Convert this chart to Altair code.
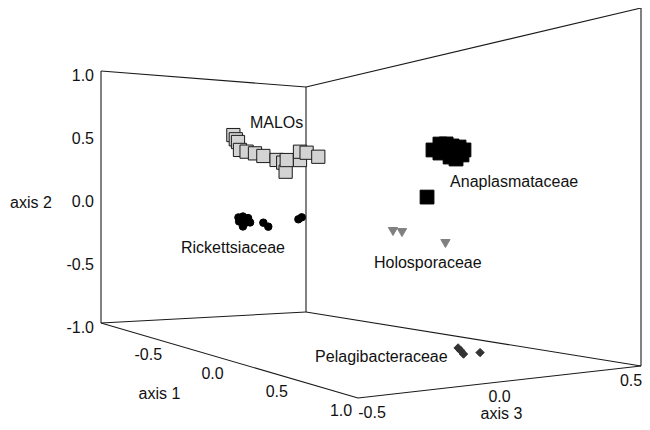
import altair as alt
import pandas as pd

# ---------------- data (3D ordination scores) ----------------
groups = ["MALOs", "Rickettsiaceae", "Anaplasmataceae", "Holosporaceae", "Pelagibacteraceae"]

malos_a1 = [-0.6] * 15
malos_a2 = [0.469, 0.438, 0.418, 0.359, 0.347, 0.335, 0.316, 0.287, 0.267, 0.198, 0.287, 0.288, 0.352, 0.345, 0.315]
malos_a3 = [-0.133, -0.122, -0.112, -0.103, -0.073, -0.035, 0.003, 0.063, 0.093, 0.104, 0.109, 0.169, 0.169, 0.199, 0.252]

rick_a1 = [-0.5] * 11
rick_a2 = [-0.168, -0.133, -0.145, -0.177, -0.205, -0.177, -0.139, -0.181, -0.211, -0.162, -0.148]
rick_a3 = [-0.171, -0.154, -0.131, -0.122, -0.154, -0.140, -0.174, -0.063, -0.041, 0.093, 0.108]

anap_a1 = [0.1] * 12
anap_a2 = [0.294, 0.332, 0.332, 0.318, 0.310, 0.290, 0.273, 0.279, 0.231, 0.245, 0.257, -0.014]
anap_a3 = [0.269, 0.297, 0.322, 0.346, 0.374, 0.394, 0.297, 0.330, 0.362, 0.338, 0.386, 0.245]

holo_a1 = [0.0] * 3
holo_a2 = [-0.237, -0.247, -0.335]
holo_a3 = [0.170, 0.207, 0.385]

pela_a1 = [0.7] * 4
pela_a2 = [-0.863, -0.882, -0.901, -0.902]
pela_a3 = [0.011, 0.022, 0.031, 0.092]

# cluster label anchors (3D)
label_text = ["MALOs", "Anaplasmataceae", "Rickettsiaceae", "Holosporaceae", "Pelagibacteraceae"]
label_a1 = [-0.6, 0.1, -0.5, 0.0, 0.7]
label_a2 = [0.562, 0.080, -0.346, -0.440, -0.835]
label_a3 = [-0.058, 0.338, -0.430, 0.092, -0.516]

# axis ranges and tick labels
A1_RANGE = (-1.0, 1.0)
A2_RANGE = (-1.0, 1.0)
A3_RANGE = (-0.5, 0.5)
axis1_ticks = [-0.5, 0.0, 0.5, 1.0]
axis1_labels = ["-0.5", "0.0", "0.5", "1.0"]
axis2_ticks = [-1.0, -0.5, 0.0, 0.5, 1.0]
axis2_labels = ["-1.0", "-0.5", "0.0", "0.5", "1.0"]
axis3_ticks = [-0.5, 0.0, 0.5]
axis3_labels = ["-0.5", "0.0", "0.5"]

# ---------------- marker styles ----------------
STYLE = {
    "MALOs": ("square", "#d3d3d3", "#1a1a1a", 175),
    "Rickettsiaceae": ("circle", "#000000", "#000000", 56),
    "Anaplasmataceae": ("square", "#000000", "#000000", 190),
    "Holosporaceae": ("triangle-down", "#808080", "#808080", 85),
    "Pelagibacteraceae": ("diamond", "#333333", "#333333", 70),
}

# ---------------- view (bilinear 3D projection) ----------------
# floor corner anchors in canvas units: (u,v) = (0,0), (1,0), (1,1), (0,1)
FLOOR_X = (101, 358, 641, 306)
FLOOR_Y = (323, 398, 366, 312)
WALL_H = (252, 385, 358, 225)


def bil(p, u, v):
    return (1 - u) * (1 - v) * p[0] + u * (1 - v) * p[1] + u * v * p[2] + (1 - u) * v * p[3]


def project(a1, a2, a3):
    u = (a1 - A1_RANGE[0]) / (A1_RANGE[1] - A1_RANGE[0])
    v = (a3 - A3_RANGE[0]) / (A3_RANGE[1] - A3_RANGE[0])
    t = (a2 - A2_RANGE[0]) / (A2_RANGE[1] - A2_RANGE[0])
    return bil(FLOOR_X, u, v), bil(FLOOR_Y, u, v) - bil(WALL_H, u, v) * t


rows = []
for g, A1, A2, A3 in [
    ("MALOs", malos_a1, malos_a2, malos_a3),
    ("Rickettsiaceae", rick_a1, rick_a2, rick_a3),
    ("Anaplasmataceae", anap_a1, anap_a2, anap_a3),
    ("Holosporaceae", holo_a1, holo_a2, holo_a3),
    ("Pelagibacteraceae", pela_a1, pela_a2, pela_a3),
]:
    for a, b, c in zip(A1, A2, A3):
        X, Y = project(a, b, c)
        rows.append({"group": g, "axis1": a, "axis2": b, "axis3": c, "X": X, "Y": Y, "sz": STYLE[g][3]})
pts = pd.DataFrame(rows)
pts["idx"] = range(len(pts))

lo1, hi1 = A1_RANGE
lo2, hi2 = A2_RANGE
lo3, hi3 = A3_RANGE
edges3d = [
    ((lo1, lo2, lo3), (lo1, hi2, lo3)),
    ((lo1, lo2, hi3), (lo1, hi2, hi3)),
    ((hi1, lo2, hi3), (hi1, hi2, hi3)),
    ((lo1, hi2, lo3), (lo1, hi2, hi3)),
    ((lo1, hi2, hi3), (hi1, hi2, hi3)),
    ((lo1, lo2, lo3), (lo1, lo2, hi3)),
    ((lo1, lo2, hi3), (hi1, lo2, hi3)),
    ((lo1, lo2, lo3), (hi1, lo2, lo3)),
    ((hi1, lo2, lo3), (hi1, lo2, hi3)),
]
erows = []
for p, q in edges3d:
    x1, y1 = project(*p)
    x2, y2 = project(*q)
    erows.append({"X": x1, "Y": y1, "X2": x2, "Y2": y2})
edges = pd.DataFrame(erows)

labs = pd.DataFrame(
    [dict(zip(["text", "X", "Y"], [t, *project(a, b, c)])) for t, a, b, c in zip(label_text, label_a1, label_a2, label_a3)]
)

t1 = pd.DataFrame([dict(text=s, X=project(v, lo2, lo3)[0], Y=project(v, lo2, lo3)[1]) for v, s in zip(axis1_ticks, axis1_labels)])
t2 = pd.DataFrame([dict(text=s, X=project(lo1, v, lo3)[0], Y=project(lo1, v, lo3)[1]) for v, s in zip(axis2_ticks, axis2_labels)])
t3 = pd.DataFrame([dict(text=s, val=v, X=project(hi1, lo2, v)[0], Y=project(hi1, lo2, v)[1]) for v, s in zip(axis3_ticks, axis3_labels)])

titles = pd.DataFrame([
    dict(text="axis 1", X=project(0.0, lo2, lo3)[0], Y=project(0.0, lo2, lo3)[1], dx=-70, dy=33),
    dict(text="axis 2", X=project(lo1, 0.0, lo3)[0], Y=project(lo1, 0.0, lo3)[1], dx=-70, dy=6),
    dict(text="axis 3", X=project(hi1, lo2, 0.0)[0], Y=project(hi1, lo2, 0.0)[1], dx=2, dy=32),
])
titles["X"] = titles["X"] + titles["dx"]
titles["Y"] = titles["Y"] + titles["dy"]

# ---------------- chart ----------------
W, H = 634, 414
xs = alt.Scale(domain=[8, 8 + W], nice=False, zero=False)
ys = alt.Scale(domain=[8, 8 + H], nice=False, zero=False, reverse=True)
X = alt.X("X:Q", scale=xs, axis=None)
Y = alt.Y("Y:Q", scale=ys, axis=None)
FONT = "Liberation Sans"

frame = alt.Chart(edges).mark_rule(color="#1a1a1a", strokeWidth=1.1).encode(
    x=X, y=Y, x2="X2:Q", y2="Y2:Q"
)

points = alt.Chart(pts).mark_point(filled=True, opacity=1, strokeWidth=1).encode(
    x=X,
    y=Y,
    shape=alt.Shape("group:N", scale=alt.Scale(domain=groups, range=[STYLE[g][0] for g in groups]), legend=None),
    fill=alt.Fill("group:N", scale=alt.Scale(domain=groups, range=[STYLE[g][1] for g in groups]), legend=None),
    stroke=alt.Stroke("group:N", scale=alt.Scale(domain=groups, range=[STYLE[g][2] for g in groups]), legend=None),
    size=alt.Size("sz:Q", scale=None),
    order=alt.Order("idx:Q"),
)

cluster_labels = alt.Chart(labs).mark_text(align="left", baseline="middle", fontSize=16, font=FONT, color="#111").encode(
    x=X, y=Y, text="text:N"
)
tick1 = alt.Chart(t1).mark_text(align="center", baseline="middle", fontSize=16, font=FONT, color="#111", dx=-17, dy=13).encode(
    x=X, y=Y, text="text:N"
)
tick2 = alt.Chart(t2).mark_text(align="right", baseline="middle", fontSize=16, font=FONT, color="#111", dx=-7, dy=5).encode(
    x=X, y=Y, text="text:N"
)
# axis-3 labels: nudge the end labels so they stay clear of the neighbour label / canvas edge
tick3 = alt.Chart(t3).transform_calculate(
    X2="datum.val == -0.5 ? datum.X + 14 : (datum.val == 0.5 ? datum.X - 10 : datum.X)"
).mark_text(align="center", baseline="middle", fontSize=16, font=FONT, color="#111", dy=15).encode(
    x=alt.X("X2:Q", scale=xs, axis=None), y=Y, text="text:N"
)
title_txt = alt.Chart(titles).mark_text(align="center", baseline="middle", fontSize=16, font=FONT, color="#111").encode(
    x=X, y=Y, text="text:N"
)

chart = (
    alt.layer(frame, points, cluster_labels, tick1, tick2, tick3, title_txt)
    .properties(width=W, height=H, padding=0, autosize=alt.AutoSizeParams(type="none"), background="white")
    .configure_view(strokeWidth=0)
)

chart.save("out.html", embed_options={"renderer": "svg", "actions": False})
